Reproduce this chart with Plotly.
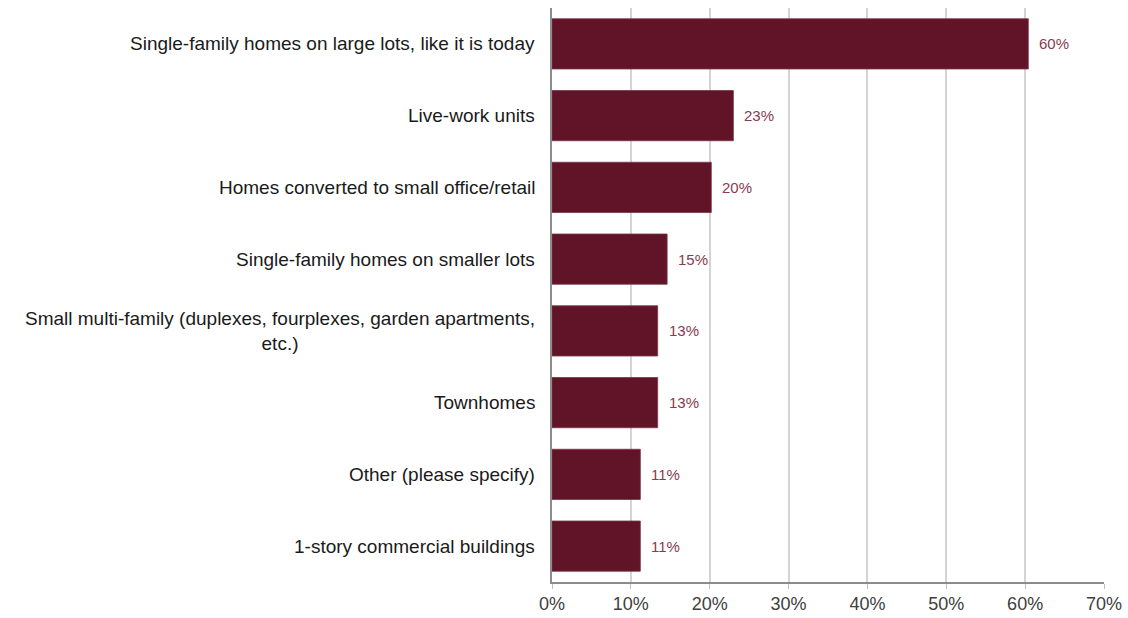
import plotly.graph_objects as go

categories = [
    "Single-family homes on large lots, like it is today",
    "Live-work units",
    "Homes converted to small office/retail",
    "Single-family homes on smaller lots",
    "Small multi-family (duplexes, fourplexes, garden apartments,<br>etc.)",
    "Townhomes",
    "Other (please specify)",
    "1-story commercial buildings",
]
values = [60.4, 23.0, 20.2, 14.6, 13.4, 13.4, 11.2, 11.2]
value_labels = ["60%", "23%", "20%", "15%", "13%", "13%", "11%", "11%"]
tick_vals = [0, 10, 20, 30, 40, 50, 60, 70]
tick_text = ["0%", "10%", "20%", "30%", "40%", "50%", "60%", "70%"]

BAR = "#611427"
FONT = "Liberation Sans, Arial, sans-serif"

fig = go.Figure(go.Bar(
    x=values, y=categories, orientation="h",
    marker=dict(color=BAR, line=dict(color="#7a3446", width=0.8)),
    width=0.7,
))

annotations = []
for c, v, t in zip(categories, values, value_labels):
    annotations.append(dict(x=v, y=c, xref="x", yref="y", text=t, showarrow=False,
                            xanchor="left", xshift=9,
                            font=dict(family=FONT, size=15, color="#8a3a52")))
    annotations.append(dict(x=0, y=c, xref="paper", yref="y", text=c, showarrow=False,
                            xanchor="right", xshift=-15, align="center",
                            font=dict(family=FONT, size=19, color="#1a1a1a")))

fig.update_layout(
    width=1128, height=618,
    margin=dict(l=552, r=24, t=8, b=36),
    plot_bgcolor="white", paper_bgcolor="white",
    showlegend=False,
    annotations=annotations,
    xaxis=dict(range=[0, 70], tickvals=tick_vals, ticktext=tick_text,
               showgrid=True, gridcolor="#d4d4d4", gridwidth=1.5,
               showline=True, linecolor="#8c8c8c", linewidth=1.5,
               ticks="outside", ticklen=5, tickcolor="#bfbfbf",
               tickfont=dict(family=FONT, size=18, color="#404040"),
               zeroline=False, fixedrange=True, automargin=False),
    yaxis=dict(autorange="reversed", showticklabels=False, ticks="",
               showline=True, linecolor="#8c8c8c", linewidth=1.5,
               showgrid=False, fixedrange=True),
)

fig.write_html("out.html", config={"displayModeBar": False},
               post_script="document.body.style.margin='0';document.body.style.overflow='hidden';")
